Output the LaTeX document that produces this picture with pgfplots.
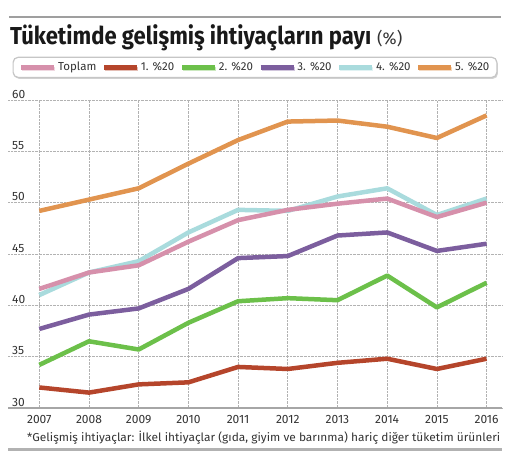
\documentclass[border=0pt]{standalone}
\usepackage{fontspec}
\setmainfont{Fira Sans}
\usepackage{graphicx}
\usepackage{pgfplots}
\pgfplotsset{compat=1.18}
\usetikzlibrary{shadows}

\definecolor{toplam}{HTML}{D690AB}
\definecolor{q1}{HTML}{B5452B}
\definecolor{q2}{HTML}{6CC04A}
\definecolor{q3}{HTML}{7C5E9E}
\definecolor{q4}{HTML}{A9DBDD}
\definecolor{q5}{HTML}{E1944F}
\definecolor{txt}{HTML}{333333}

\begin{document}
\begin{tikzpicture}
\useasboundingbox (0,0) rectangle (523bp,-464bp);

% rules and texts around the chart
\draw[gray!75, line width=1.5bp] (9bp,-17bp) -- (501bp,-17bp);
\node[anchor=base west, inner sep=0, text=black!90] at (10bp,-44bp)
  {\resizebox{361bp}{\height}{\fontsize{24.5bp}{26bp}\selectfont\bfseries Tüketimde gelişmiş ihtiyaçların payı}};
\node[anchor=base west, inner sep=0, text=txt] at (377bp,-44bp)
  {\fontsize{17bp}{19bp}\selectfont(\%)};
\node[anchor=base west, inner sep=0, text=txt] at (27bp,-441bp)
  {\resizebox{473bp}{\height}{\fontsize{11.5bp}{13bp}\selectfont *Gelişmiş ihtiyaçlar: İlkel ihtiyaçlar (gıda, giyim ve barınma) hariç diğer tüketim ürünleri}};
\draw[gray!60, line width=3bp] (8bp,-449.5bp) -- (502bp,-449.5bp);

\begin{axis}[
    at={(8bp,-408bp)}, anchor=south west,
    scale only axis,
    width=494bp, height=308bp,
    xmin=2006.37, xmax=2016.31,
    ymin=30, ymax=60,
    xtick={2007,...,2016},
    ytick={30,35,...,60},
    /pgf/number format/1000 sep={},
    /pgf/number format/assume math mode=true,
    major tick length=0,
    axis x line*=bottom, axis y line*=left,
    x axis line style={-, draw=gray!70, line width=2.5bp},
    y axis line style={draw=none},
    grid=major,
    grid style={densely dotted, gray!60, line width=0.6bp},
    tick label style={font=\fontsize{12bp}{14bp}\selectfont, text=txt},
    yticklabel style={anchor=south west, inner sep=1.5bp, xshift=2.5bp},
    xticklabel style={yshift=-3.5bp},
    every axis plot/.append style={line width=4.5bp, line join=round, mark=none},
    clip=false,
    legend columns=6,
    legend image code/.code={\draw[#1] (0bp,0bp) -- (33bp,0bp);},
    legend style={
        at={(0.5,1)}, anchor=south, yshift=22bp,
        draw=gray!45, line width=1.2bp, rounded corners=5bp,
        drop shadow={shadow xshift=1bp, shadow yshift=-1.5bp, opacity=0.35},
        inner xsep=6bp, inner ysep=4bp,
        font=\fontsize{11.5bp}{13bp}\selectfont,
        text=txt,
        nodes={inner xsep=1.5bp, inner ysep=1bp},
        /tikz/every even column/.append style={column sep=4bp},
    },
    legend cell align=left,
]
\addlegendimage{toplam}\addlegendentry{Toplam}
\addlegendimage{q1}\addlegendentry{1. \%20}
\addlegendimage{q2}\addlegendentry{2. \%20}
\addlegendimage{q3}\addlegendentry{3. \%20}
\addlegendimage{q4}\addlegendentry{4. \%20}
\addlegendimage{q5}\addlegendentry{5. \%20}

% 5. %20
\addplot[q5, forget plot] coordinates {
  (2007,49.2) (2008,50.3) (2009,51.4) (2010,53.8) (2011,56.1)
  (2012,57.9) (2013,58.0) (2014,57.4) (2015,56.3) (2016,58.5)};
% 4. %20
\addplot[q4, forget plot] coordinates {
  (2007,41.0) (2008,43.2) (2009,44.3) (2010,47.1) (2011,49.3)
  (2012,49.2) (2013,50.6) (2014,51.4) (2015,48.8) (2016,50.4)};
% Toplam
\addplot[toplam, forget plot] coordinates {
  (2007,41.6) (2008,43.2) (2009,43.9) (2010,46.2) (2011,48.3)
  (2012,49.3) (2013,49.9) (2014,50.4) (2015,48.6) (2016,50.0)};
% 3. %20
\addplot[q3, forget plot] coordinates {
  (2007,37.7) (2008,39.1) (2009,39.7) (2010,41.6) (2011,44.6)
  (2012,44.8) (2013,46.8) (2014,47.1) (2015,45.3) (2016,46.0)};
% 2. %20
\addplot[q2, forget plot] coordinates {
  (2007,34.2) (2008,36.5) (2009,35.7) (2010,38.3) (2011,40.4)
  (2012,40.7) (2013,40.5) (2014,42.9) (2015,39.8) (2016,42.2)};
% 1. %20
\addplot[q1, forget plot] coordinates {
  (2007,32.0) (2008,31.5) (2009,32.3) (2010,32.5) (2011,34.0)
  (2012,33.8) (2013,34.4) (2014,34.8) (2015,33.8) (2016,34.8)};
\end{axis}
\end{tikzpicture}
\end{document}
